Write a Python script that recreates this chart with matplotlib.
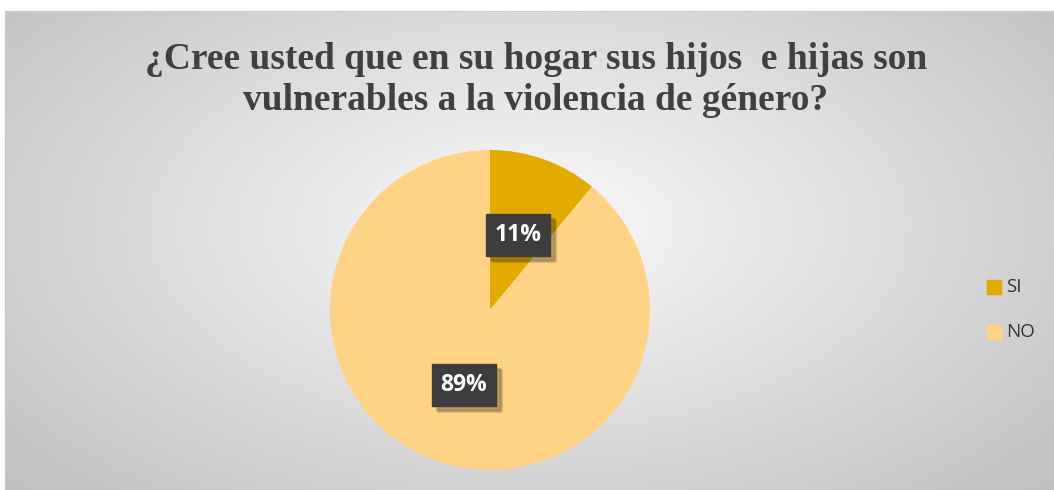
import numpy as np
import matplotlib.pyplot as plt
from matplotlib.patches import Rectangle

# chart data
labels = ['SI', 'NO']
values = [11, 89]
colors = ['#E3AA00', '#FFD386']
title = '¿Cree usted que en su hogar sus hijos  e hijas son\nvulnerables a la violencia de género?'

W, H = 1054, 490
fig = plt.figure(figsize=(W / 100, H / 100), dpi=100)
fig.patch.set_facecolor('white')

# gradient background of the chart area
bg = fig.add_axes([5 / W, 0, 1 - 5 / W, 1 - 11 / H])
yy, xx = np.mgrid[0:1:300j, 0:1:600j]
r = np.sqrt(((xx - 0.5) * 1.0) ** 2 + ((yy - 0.45) * 0.85) ** 2) / 0.6
shade = 0.98 - 0.2 * np.clip(r, 0, 1.2)
bg.imshow(shade, cmap='gray', vmin=0, vmax=1, aspect='auto', extent=[0, 1, 0, 1],
          interpolation='bilinear')
bg.set_xticks([])
bg.set_yticks([])
for s in bg.spines.values():
    s.set_color('#c8c8c8')
    s.set_linewidth(0.8)

fig.text(536 / W, 1 - 80 / H, title, ha='center', va='center', fontsize=27,
         fontweight='bold', family='Liberation Serif', color='#404040',
         linespacing=1.22)

# pie
cx, cy, rad = 490, 310, 160
ax = fig.add_axes([(cx - rad) / W, (H - cy - rad) / H, 2 * rad / W, 2 * rad / H])
wedges, _ = ax.pie(values, colors=colors, startangle=90, counterclock=False,
                   wedgeprops=dict(linewidth=0))
ax.set_xlim(-1, 1)
ax.set_ylim(-1, 1)
ax.set_aspect('auto')

label_pos = [(518, 235), (464, 385)]
for v, (px, py) in zip(values, label_pos):
    x = px / W
    y = 1 - py / H
    bw, bh = 64 / W, 42 / H
    for k, a in [(6, 0.08), (5, 0.1), (4, 0.12)]:
        fig.patches.append(Rectangle((x - bw / 2 + k / W, y - bh / 2 - k / H), bw, bh,
                                     transform=fig.transFigure, color='black', alpha=a,
                                     zorder=5))
    fig.patches.append(Rectangle((x - bw / 2, y - bh / 2), bw, bh,
                                 transform=fig.transFigure, color='#3d3d3d', zorder=6))
    fig.text(x, y, '%d%%' % v, ha='center', va='center', fontsize=16.5,
             fontweight='bold', family='Open Sans', color='white', zorder=7)

# legend
for i, (lab, col) in enumerate(zip(labels, colors)):
    ly = 287 + i * 45
    fig.patches.append(Rectangle((987 / W, 1 - (ly + 7) / H), 14 / W, 14 / H,
                                 transform=fig.transFigure, color=col, zorder=5))
    fig.text(1006 / W, 1 - ly / H, lab, ha='left', va='center', fontsize=13.5,
             family='Open Sans', color='#333333')

fig.savefig('out.png', dpi=100)
